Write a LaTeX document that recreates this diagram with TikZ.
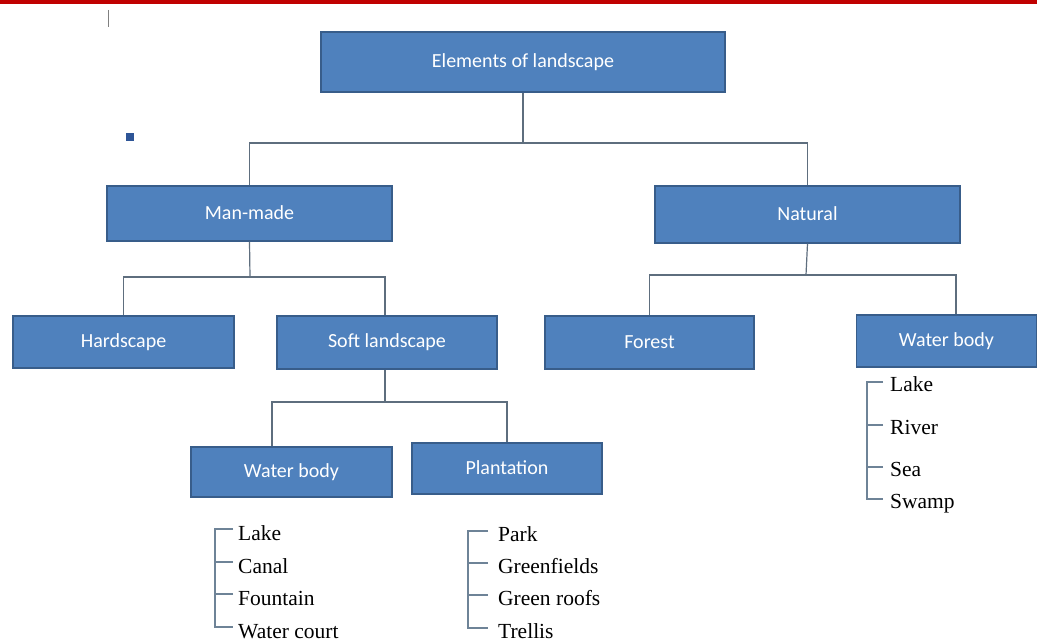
\documentclass[tikz,border=0pt]{standalone}
\usepackage{fontspec}
\setmainfont{Liberation Serif}
\newfontfamily\boxfont{Carlito}
\definecolor{boxfill}{HTML}{4F81BD}
\definecolor{boxline}{HTML}{385D8A}
\definecolor{conn}{HTML}{5E6E7E}
\definecolor{brack}{HTML}{6E8397}
\definecolor{topred}{HTML}{C00000}
\definecolor{sq}{HTML}{2E5597}
\begin{document}
\begin{tikzpicture}[x=1pt,y=-1pt,
  box/.style={draw=boxline, line width=1.4pt, fill=boxfill, text=white,
    font=\boxfont\fontsize{20}{23}\selectfont, inner sep=0pt, anchor=center},
  conline/.style={draw=conn, line width=1.2pt},
  brline/.style={draw=brack, line width=1.1pt},
  item/.style={anchor=base west, inner sep=0pt, text=black,
    font=\fontsize{21.5}{24}\selectfont}]
\useasboundingbox (0,0) rectangle (1037,642);
\fill[white] (0,0) rectangle (1037,642);
% top red band
\fill[topred] (0,0) rectangle (1037,4.5);
\draw[gray, line width=0.8pt] (108,10) -- (108,27);
\fill[sq] (126,133) rectangle (134,141);

% boxes
\node[box, minimum width=404pt, minimum height=60pt] (elem) at (523,62) {\raisebox{2pt}{Elements of landscape}};
\node[box, minimum width=285pt, minimum height=55pt] (man) at (249.5,213.5) {\raisebox{2pt}{Man-made}};
\node[box, minimum width=305pt, minimum height=57pt] (nat) at (807.5,214.5) {\raisebox{2pt}{Natural}};
\node[box, minimum width=221pt, minimum height=52pt] (hard) at (123.5,342) {Hardscape};
\node[box, minimum width=220pt, minimum height=53pt] (soft) at (387,342.5) {Soft landscape};
\node[box, minimum width=209pt, minimum height=53pt] (forest) at (649.5,342.5) {Forest};
\node[box, minimum width=180pt, minimum height=52pt] (wbr) at (946.5,341) {\raisebox{1pt}{Water body}};
\node[box, minimum width=201pt, minimum height=50pt] (wbl) at (291.5,472) {Water body};
\node[box, minimum width=190pt, minimum height=51pt] (plant) at (507,468.5) {\raisebox{1pt}{Plantation}};

% junctions
\coordinate (j1) at (523,143);
\coordinate (j2) at (250,277);
\coordinate (j3) at (806,275);
\coordinate (j4) at (385,402);

% connectors
\draw[conline] (elem.south) -- (j1);
\draw[conline] (man.north) |- (j1) -| (nat.north);
\draw[conline] (man.south) -- (j2);
\draw[conline] (hard.north) |- (j2) -| ([xshift=-2pt]soft.north);
\draw[conline] (nat.south) -- (j3);
\draw[conline] (forest.north) |- (j3) -| ([xshift=9.5pt]wbr.north);
\draw[conline] ([xshift=-2pt]soft.south) -- (j4);
\draw[conline] ([xshift=-19.5pt]wbl.north) |- (j4) -| (plant.north);

% list under left water body
\node[item] (a1) at (238,540) {Lake};
\node[item] (a2) at (238,573) {Canal};
\node[item] (a3) at (238,605) {Fountain};
\node[item] (a4) at (238,638) {Water court};
\draw[brline] ([xshift=-5pt,yshift=11pt]a1.base west) -- ++(-18,0) |- ([xshift=-5pt,yshift=11pt]a4.base west);
\draw[brline] ([xshift=-5pt,yshift=11pt]a2.base west) -- ++(-18,0);
\draw[brline] ([xshift=-5pt,yshift=11pt]a3.base west) -- ++(-18,0);

% list under plantation
\node[item] (b1) at (498,541) {Park};
\node[item] (b2) at (498,573) {Greenfields};
\node[item] (b3) at (498,605) {Green roofs};
\node[item] (b4) at (498,638) {Trellis};
\draw[brline] ([xshift=-10pt,yshift=10pt]b1.base west) -- ++(-20,0) |- ([xshift=-10pt,yshift=10pt]b4.base west);
\draw[brline] ([xshift=-10pt,yshift=10pt]b2.base west) -- ++(-20,0);
\draw[brline] ([xshift=-10pt,yshift=10pt]b3.base west) -- ++(-20,0);

% list under right water body
\node[item] (c1) at (890,391) {Lake};
\node[item] (c2) at (890,434) {River};
\node[item] (c3) at (890,476) {Sea};
\node[item] (c4) at (890,508) {Swamp};
\draw[brline] ([xshift=-7pt,yshift=9pt]c1.base west) -- ++(-16,0) |- ([xshift=-7pt,yshift=9pt]c4.base west);
\draw[brline] ([xshift=-7pt,yshift=9pt]c2.base west) -- ++(-16,0);
\draw[brline] ([xshift=-7pt,yshift=9pt]c3.base west) -- ++(-16,0);
\end{tikzpicture}
\end{document}
